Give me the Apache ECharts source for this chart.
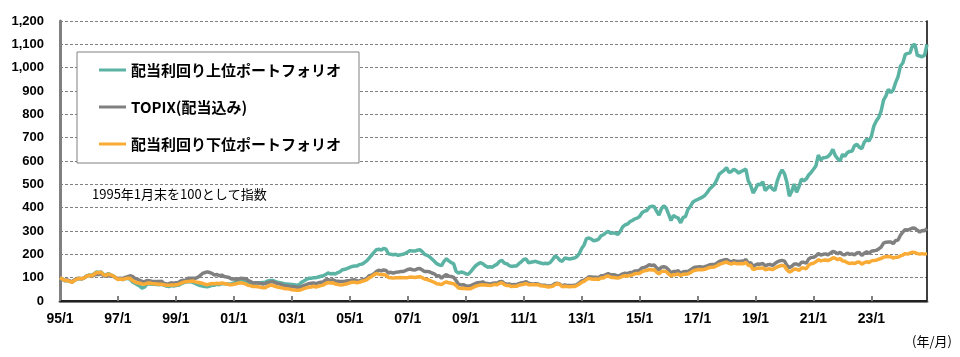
<!DOCTYPE html>
<html>
<head>
<meta charset="utf-8">
<script src="https://cdn.jsdelivr.net/npm/echarts@6/dist/echarts.min.js"></script>
<style>html,body{margin:0;padding:0;background:#fff}#c{width:960px;height:357px}</style>
</head>
<body>
<div id="c"></div>
<script>
// Monthly index values, 1995/1 = 100 (rows: 1995 ... 2024, Jan..Dec)
const years = [1995,1996,1997,1998,1999,2000,2001,2002,2003,2004,2005,2006,2007,2008,2009,2010,2011,2012,2013,2014,2015,2016,2017,2018,2019,2020,2021,2022,2023,2024];

const highYield = [ // 配当利回り上位ポートフォリオ
  100, 93, 87, 88, 85, 81, 88, 94, 96, 95, 99,106,
  111,110,115,124,122,125,114,112,117,112,108,100,
   94, 95, 92, 96, 96, 94, 82, 76, 70, 64, 55, 60,
   72, 74, 72, 72, 71, 70, 72, 68, 64, 62, 66, 64,
   66, 67, 73, 78, 81, 82, 82, 80, 75, 70, 66, 64,
   62, 61, 64, 67, 68, 72, 70, 74, 74, 74, 73, 74,
   77, 80, 84, 86, 84, 82, 80, 78, 75, 77, 78, 78,
   79, 80, 86, 88, 88, 84, 80, 78, 76, 74, 73, 72,
   71, 70, 68, 70, 80, 86, 92, 97, 97,100,100,103,
  106,108,114,120,116,118,116,122,126,134,136,140,
  144,148,150,150,156,158,164,172,184,196,208,220,
  222,218,226,222,202,200,198,200,196,198,200,204,
  210,216,214,214,218,220,212,200,196,190,180,170,
  160,155,152,170,181,172,164,160,127,120,124,122,
  117,114,125,138,150,158,164,160,152,145,147,145,
  152,158,170,174,162,160,152,148,150,150,160,168,
  178,180,164,166,168,170,166,163,160,162,160,165,
  178,193,186,174,170,184,182,180,182,184,190,203,
  225,240,267,270,265,258,260,265,279,284,292,299,
  290,292,290,286,298,318,326,330,340,345,352,355,
  362,378,385,388,402,406,405,385,368,395,408,398,
  372,345,366,360,355,335,358,362,392,405,423,430,
  435,440,445,452,465,480,490,500,520,544,552,560,
  572,551,555,565,558,548,555,560,565,515,495,463,
  480,501,498,511,473,485,494,480,473,515,544,562,
  545,508,449,470,501,466,490,523,515,523,540,551,
  565,579,625,605,614,615,619,630,650,624,610,600,
  628,620,636,641,643,666,671,659,653,680,693,686,
  707,750,771,786,814,861,879,907,893,904,936,961,
 1007,1020,1057,1061,1064,1096,1100,1053,1050,1047,1053,1100
];

const topix = [ // TOPIX(配当込み)
  100, 94, 88, 90, 86, 83, 91, 96, 97, 95, 99,107,
  110,106,110,115,113,117,109,106,110,106,106,100,
   96, 97, 96,101,104,108,105, 97, 94, 89, 84, 82,
   88, 87, 85, 84, 84, 84, 85, 76, 73, 74, 78, 76,
   78, 79, 86, 89, 88, 97, 98, 98, 97,101,109,118,
  122,125,122,118,111,114,108,111,105,103,101, 94,
   95, 92, 95, 98, 96, 95, 88, 83, 76, 78, 77, 76,
   73, 75, 79, 81, 83, 79, 75, 73, 69, 65, 65, 62,
   62, 61, 59, 59, 61, 67, 70, 74, 76, 77, 74, 78,
   80, 82, 90, 91, 88, 91, 86, 85, 84, 84, 85, 87,
   88, 90, 91, 87, 86, 90, 92, 97,108,110,117,126,
  132,129,133,131,120,123,119,123,124,126,126,130,
  135,137,134,133,138,139,133,126,126,125,120,116,
  108,108, 98,107,113,106,105,101, 88, 72, 69, 70,
   66, 63, 65, 70, 75, 78, 79, 82, 76, 75, 72, 75,
   77, 76, 83, 84, 75, 72, 73, 69, 71, 70, 74, 77,
   79, 83, 76, 74, 73, 74, 73, 68, 67, 67, 64, 64,
   68, 75, 76, 72, 65, 69, 66, 66, 66, 67, 70, 78,
   86, 89, 95,104,103,102,102,100,108,108,113,117,
  112,112,111,107,111,116,119,117,122,122,129,129,
  132,142,144,148,156,152,154,143,132,145,147,144,
  134,121,126,126,130,118,125,126,126,133,140,145,
  146,147,145,147,151,155,156,156,162,170,173,176,
  178,172,167,173,170,169,171,170,178,162,164,148,
  155,159,158,161,151,155,157,152,160,168,172,174,
  171,153,143,149,159,159,153,166,166,162,180,186,
  187,193,203,197,200,202,198,205,212,209,202,209,
  199,198,205,200,202,198,206,208,195,205,211,204,
  213,215,217,223,231,248,252,253,253,246,259,261,
  282,296,306,304,308,313,312,303,296,302,301,310
];

const lowYield = [ // 配当利回り下位ポートフォリオ
  100, 94, 88, 88, 84, 80, 88, 94, 97, 95, 99,106,
  110,108,113,122,121,123,112,110,115,112,108,100,
   92, 94, 92, 96, 98, 97, 88, 82, 78, 76, 73, 72,
   76, 77, 75, 74, 73, 72, 72, 70, 67, 67, 69, 68,
   70, 71, 76, 80, 83, 84, 85, 86, 82, 80, 78, 76,
   72, 70, 73, 75, 74, 76, 74, 77, 75, 73, 70, 70,
   72, 74, 77, 78, 76, 72, 67, 65, 62, 62, 61, 59,
   57, 57, 63, 68, 67, 63, 60, 58, 56, 53, 53, 51,
   48, 47, 46, 46, 49, 53, 56, 59, 60, 63, 60, 63,
   66, 68, 75, 79, 77, 78, 73, 71, 69, 70, 72, 74,
   78, 80, 80, 78, 80, 85, 87, 91, 99,104,112,118,
  115,113,114,110,101,100, 98,100,100,101,100,100,
  100,103,102,101,103,104,100, 94, 92, 89, 84, 80,
   74, 73, 70, 78, 82, 78, 76, 74, 66, 56, 54, 55,
   53, 52, 53, 58, 63, 66, 69, 70, 69, 68, 66, 68,
   71, 70, 76, 78, 70, 66, 66, 62, 63, 63, 68, 70,
   72, 75, 70, 70, 70, 70, 70, 65, 64, 63, 60, 61,
   63, 70, 74, 70, 61, 63, 62, 61, 62, 62, 66, 72,
   80, 84, 92, 97, 94, 93, 94, 92, 99, 99,105,107,
  102,101,100, 98,101,106,108,107,110,111,117,118,
  118,126,129,131,135,133,134,124,116,126,128,126,
  116,108,113,113,116,109,115,115,116,121,128,132,
  134,135,134,136,140,144,145,146,151,157,160,164,
  167,161,158,163,160,160,161,160,166,152,153,134,
  138,141,140,142,134,137,138,134,140,146,150,153,
  149,134,124,129,137,136,131,141,141,138,153,160,
  162,168,177,172,174,176,173,178,185,183,177,182,
  172,170,164,160,163,160,166,167,158,164,168,165,
  172,174,175,179,182,188,190,191,190,184,188,188,
  193,197,203,201,205,209,208,203,201,203,201,203
];

const seriesNames = ['配当利回り上位ポートフォリオ', 'TOPIX(配当込み)', '配当利回り下位ポートフォリオ'];
const seriesColors = ['#5BB3A4', '#808080', '#F9AB36'];
const yTicks = [0,100,200,300,400,500,600,700,800,900,1000,1100,1200];
const noteText = '1995年1月末を100として指数';
const unitText = '(年/月)';

const categories = [];
years.forEach(y => { for (let m = 1; m <= 12; m++) categories.push(String(y % 100).padStart(2, '0') + '/' + m); });

const num = '"Liberation Sans", Arial, sans-serif';
const jp = '"Noto Sans CJK JP", sans-serif';
const every24 = (i) => i % 24 === 0;

const chart = echarts.init(document.getElementById('c'), null, {renderer: 'canvas'});
chart.setOption({
  animation: false,
  backgroundColor: '#fff',
  grid: {left: 60, right: 33, top: 21, bottom: 56},
  legend: {
    orient: 'vertical', left: 77, top: 52,
    padding: [8, 18, 9, 22], itemGap: 17,
    itemWidth: 27, itemHeight: 3, icon: 'rect',
    borderColor: '#808080', borderWidth: 1, backgroundColor: '#fff',
    textStyle: {fontSize: 15, fontWeight: 'bold', fontFamily: jp, color: '#000', lineHeight: 20},
    data: seriesNames
  },
  xAxis: [{
    type: 'category', data: categories, boundaryGap: false,
    axisLine: {lineStyle: {color: '#808080', width: 3}},
    axisTick: {show: true, inside: true, length: 5, interval: every24, lineStyle: {color: '#808080', width: 2}},
    axisLabel: {interval: every24, fontFamily: num, fontWeight: 'bold', fontSize: 14, color: '#000', margin: 11},
    splitLine: {show: false}
  }, {
    type: 'category', data: categories, boundaryGap: false, position: 'top',
    axisLine: {lineStyle: {color: '#000', width: 1.5}},
    axisTick: {show: false}, axisLabel: {show: false}, splitLine: {show: false}
  }],
  yAxis: [{
    type: 'value', min: yTicks[0], max: yTicks[yTicks.length - 1], interval: 100,
    axisLine: {show: true, lineStyle: {color: '#808080', width: 3}},
    axisTick: {show: false},
    axisLabel: {fontFamily: num, fontWeight: 'bold', fontSize: 13, color: '#000', margin: 16,
      formatter: v => v.toLocaleString('en-US')},
    splitLine: {lineStyle: {color: '#808080', width: 1, type: [3, 2]}}
  }, {
    type: 'value', min: 0, max: 1200, position: 'right',
    axisLine: {show: true, lineStyle: {color: '#000', width: 1.5}},
    axisTick: {show: false}, axisLabel: {show: false}, splitLine: {show: false}
  }],
  series: [highYield, topix, lowYield].map((d, k) => ({
    name: seriesNames[k], type: 'line', data: d, symbol: 'none',
    lineStyle: {width: 3.5, color: seriesColors[k]}, itemStyle: {color: seriesColors[k]},
    emphasis: {disabled: true}
  })),
  graphic: [
    {type: 'text', left: 92, top: 188, style: {text: noteText, font: '13px ' + jp, fill: '#000'}},
    {type: 'text', left: 912, top: 335, style: {text: unitText, font: '13px ' + jp, fill: '#000'}}
  ]
});
</script>
</body>
</html>
